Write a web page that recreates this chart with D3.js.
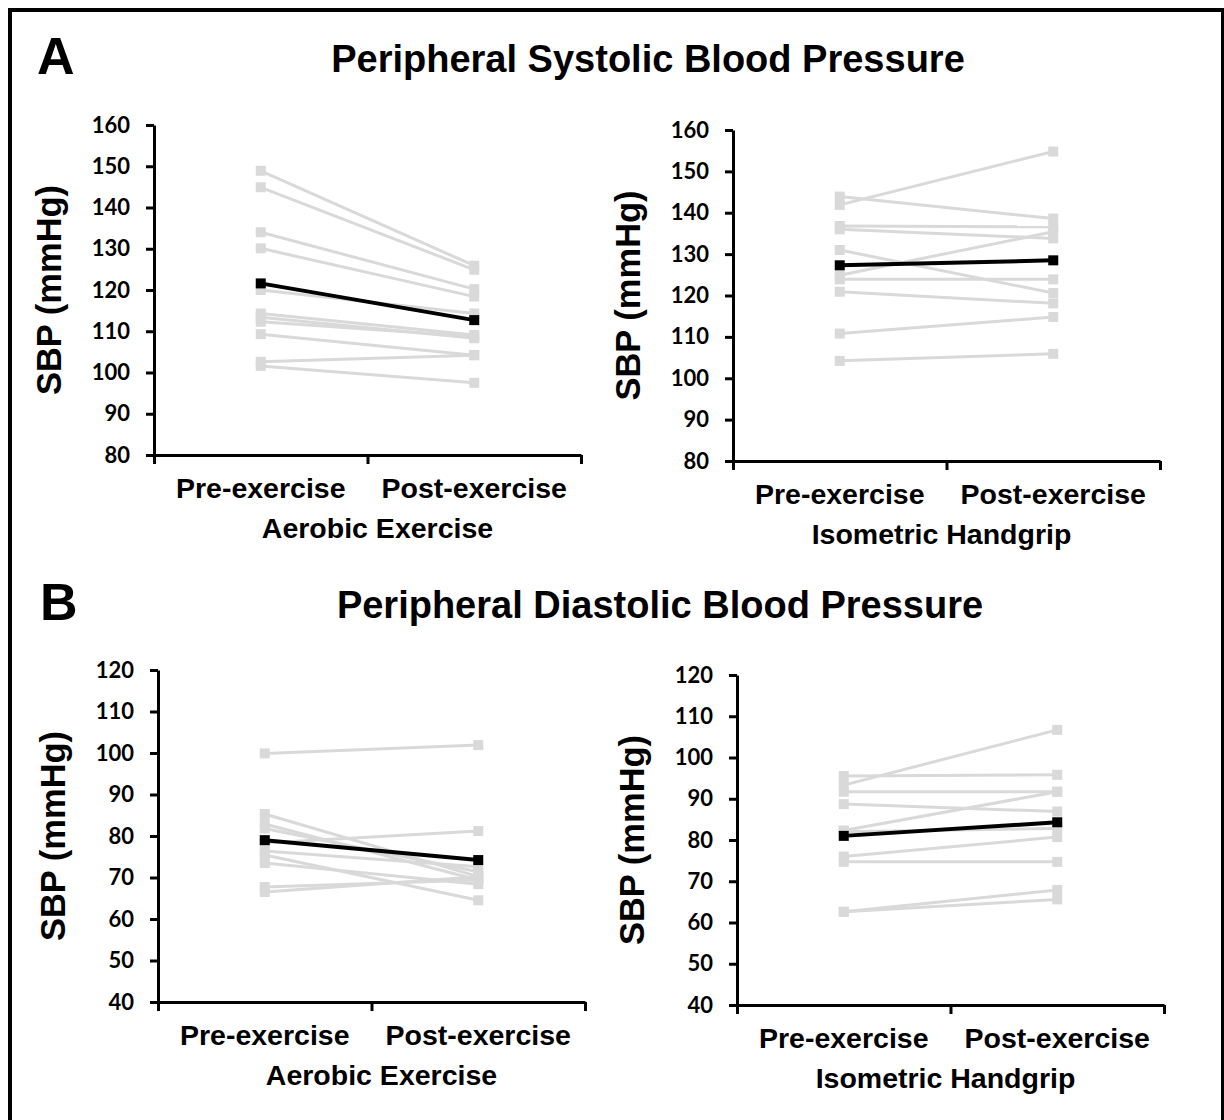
<!DOCTYPE html>
<html>
<head>
<meta charset="utf-8">
<script src="https://cdn.jsdelivr.net/npm/d3@7"></script>
<style>
  body { margin: 0; background: #fff; }
  svg { display: block; }
</style>
</head>
<body>
<div id="chart"></div>
<script>
// ---------------- DATA ----------------
const categories = ["Pre-exercise", "Post-exercise"];
const groupLabels = ["Aerobic Exercise", "Isometric Handgrip"];
const panelLetters = ["A", "B"];
const sectionTitles = ["Peripheral Systolic Blood Pressure", "Peripheral Diastolic Blood Pressure"];
const yAxisTitle = "SBP (mmHg)";
const sbpTicks = [80, 90, 100, 110, 120, 130, 140, 150, 160];
const dbpTicks = [40, 50, 60, 70, 80, 90, 100, 110, 120];

// Individual participants (pre, post)
const aerobicSbpPre  = [148.9, 144.9, 134.0, 130.1, 120.0, 114.3, 113.4, 112.3, 109.3, 102.6, 101.6];
const aerobicSbpPost = [125.9, 124.9, 120.2, 118.4, 114.3, 109.1, 108.3, 108.7, 104.2, 104.2, 97.5];
const aerobicSbpMean = [121.6, 112.7];

const handgripSbpPre  = [143.9, 141.9, 136.8, 136.0, 131.0, 124.9, 123.9, 120.9, 110.8, 104.2];
const handgripSbpPost = [138.6, 154.8, 136.6, 133.8, 120.6, 135.4, 123.9, 118.1, 114.8, 105.9];
const handgripSbpMean = [127.3, 128.5];

const aerobicDbpPre  = [99.9, 85.3, 82.9, 81.8, 78.3, 76.4, 75.4, 73.5, 67.7, 66.5];
const aerobicDbpPost = [101.9, 70.2, 69.4, 71.4, 81.2, 72.6, 64.5, 68.4, 69.4, 70.2];
const aerobicDbpMean = [79.0, 74.2];

const handgripDbpPre  = [95.5, 93.3, 91.7, 88.7, 82.3, 82.0, 76.0, 74.7, 62.6, 62.6];
const handgripDbpPost = [95.8, 106.7, 91.7, 86.9, 91.7, 82.8, 80.7, 74.7, 67.9, 65.6];
const handgripDbpMean = [81.0, 84.3];

// ---------------- LAYOUT ----------------
const W = 1224, H = 1120;
const svg = d3.select("#chart").append("svg").attr("width", W).attr("height", H);
svg.append("rect").attr("width", W).attr("height", H).attr("fill", "#fff");

// frame (top, left, right)
svg.append("line").attr("x1", 8).attr("x2", W).attr("y1", 10).attr("y2", 10).attr("stroke", "#000").attr("stroke-width", 4);
svg.append("line").attr("x1", 10).attr("x2", 10).attr("y1", 8).attr("y2", H).attr("stroke", "#000").attr("stroke-width", 4);
svg.append("line").attr("x1", 1222.5).attr("x2", 1222.5).attr("y1", 8).attr("y2", H).attr("stroke", "#000").attr("stroke-width", 3);

const fontArial = "'Liberation Sans', Arial, sans-serif";
const fontTick = "Lato, 'Open Sans', sans-serif";

// section letters and titles
const sections = [
  { letterX: 37, letterY: 74, titleX: 648, titleY: 72 },
  { letterX: 40, letterY: 620, titleX: 660, titleY: 618 }
];
sections.forEach((s, i) => {
  svg.append("text").attr("x", s.letterX).attr("y", s.letterY)
    .attr("font-family", fontArial).attr("font-weight", "bold").attr("font-size", 52)
    .text(panelLetters[i]);
  svg.append("text").attr("x", s.titleX).attr("y", s.titleY).attr("text-anchor", "middle")
    .attr("font-family", fontArial).attr("font-weight", "bold").attr("font-size", 38)
    .text(sectionTitles[i]);
});

const panels = [
  { x0: 154, top: 125, bottom: 455, ticks: sbpTicks, pre: aerobicSbpPre, post: aerobicSbpPost, mean: aerobicSbpMean, group: groupLabels[0], groupDx: 10 },
  { x0: 733, top: 130, bottom: 461, ticks: sbpTicks, pre: handgripSbpPre, post: handgripSbpPost, mean: handgripSbpMean, group: groupLabels[1], groupDx: -5 },
  { x0: 158, top: 670, bottom: 1002, ticks: dbpTicks, pre: aerobicDbpPre, post: aerobicDbpPost, mean: aerobicDbpMean, group: groupLabels[0], groupDx: 10 },
  { x0: 737, top: 675, bottom: 1005, ticks: dbpTicks, pre: handgripDbpPre, post: handgripDbpPost, mean: handgripDbpMean, group: groupLabels[1], groupDx: -5 }
];
const plotW = 427;
const gray = "#d9d9d9";
const sq = 10;

panels.forEach(p => {
  const g = svg.append("g");
  const y = d3.scaleLinear().domain(d3.extent(p.ticks)).range([p.bottom, p.top]);
  const x = d3.scaleBand().domain(categories).range([p.x0, p.x0 + plotW]).padding(0);
  const cx = c => x(c) + x.bandwidth() / 2;

  // y axis
  const ya = g.append("g").attr("transform", `translate(${p.x0},0)`)
    .call(d3.axisLeft(y).tickValues(p.ticks).tickSize(8).tickSizeOuter(0).tickPadding(16));
  ya.select(".domain").attr("stroke", "#000").attr("stroke-width", 3);
  ya.selectAll(".tick line").attr("stroke", "#000").attr("stroke-width", 3);
  ya.selectAll(".tick text").attr("font-family", fontTick).attr("font-weight", "bold")
    .attr("font-size", 22).attr("fill", "#000");

  // x axis (boundary ticks)
  const xb = d3.scaleLinear().domain([0, categories.length]).range([p.x0, p.x0 + plotW]);
  const xa = g.append("g").attr("transform", `translate(0,${p.bottom})`)
    .call(d3.axisBottom(xb).tickValues(d3.range(categories.length + 1)).tickSize(9).tickSizeOuter(0).tickFormat(""));
  xa.select(".domain").attr("stroke", "#000").attr("stroke-width", 3);
  xa.selectAll(".tick line").attr("stroke", "#000").attr("stroke-width", 3);

  // category labels
  g.selectAll("text.cat").data(categories).join("text").attr("class", "cat")
    .attr("x", d => cx(d)).attr("y", p.bottom + 43).attr("text-anchor", "middle")
    .attr("font-family", fontArial).attr("font-weight", "bold").attr("font-size", 28.5)
    .text(d => d);
  g.append("text").attr("x", p.x0 + plotW / 2 + p.groupDx).attr("y", p.bottom + 83)
    .attr("text-anchor", "middle").attr("font-family", fontArial).attr("font-weight", "bold")
    .attr("font-size", 28.5).text(p.group);

  // y title
  g.append("text")
    .attr("transform", `translate(${p.x0 - 93},${(p.top + p.bottom) / 2}) rotate(-90)`)
    .attr("text-anchor", "middle").attr("font-family", fontArial).attr("font-weight", "bold")
    .attr("font-size", 34.5).text(yAxisTitle);

  // individuals
  const pairs = p.pre.map((v, i) => [v, p.post[i]]);
  const line = d3.line().x((d, i) => cx(categories[i])).y(d => y(d));
  g.selectAll("path.ind").data(pairs).join("path").attr("class", "ind")
    .attr("d", line).attr("fill", "none").attr("stroke", gray).attr("stroke-width", 3);
  pairs.forEach(pr => {
    g.selectAll(null).data(pr).join("rect")
      .attr("x", (d, i) => cx(categories[i]) - sq / 2).attr("y", d => y(d) - sq / 2)
      .attr("width", sq).attr("height", sq).attr("fill", gray);
  });

  // mean
  g.append("path").attr("d", line(p.mean)).attr("fill", "none").attr("stroke", "#000").attr("stroke-width", 4);
  g.selectAll("rect.mean").data(p.mean).join("rect").attr("class", "mean")
    .attr("x", (d, i) => cx(categories[i]) - sq / 2).attr("y", d => y(d) - sq / 2)
    .attr("width", sq).attr("height", sq).attr("fill", "#000");
});
</script>
</body>
</html>
